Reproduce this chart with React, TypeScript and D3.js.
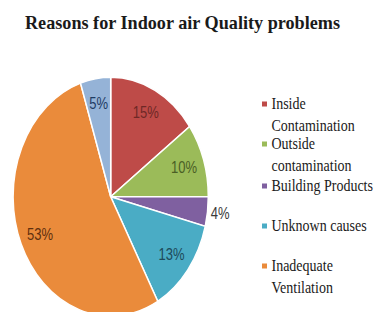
import React from 'react';
import * as d3 from 'd3';

const title = 'Reasons for Indoor air Quality problems';
const categories = [
  'Inside Contamination',
  'Outside contamination',
  'Building Products',
  'Unknown causes',
  'Inadequate Ventilation',
  'Others',
];
const values = [15, 10, 4, 13, 53, 5];
const valueLabels = ['15%', '10%', '4%', '13%', '53%', '5%'];
const legendLines = [
  ['Inside', 'Contamination'],
  ['Outside', 'contamination'],
  ['Building Products'],
  ['Unknown causes'],
  ['Inadequate', 'Ventilation'],
];

const sliceColors = ['#BE4B48', '#9BBB59', '#7F60A0', '#4AACC5', '#EA8B3B', '#95B3D7'];
const labelColors = ['#6e2826', '#4a5e25', '#3a3a3a', '#1d4a5a', '#5e2f0e', '#1f3c64'];

const W = 383;
const H = 312;
const cx = 110.7;
const cy = 196.7;
const R = 97.6;
const S = 1.223; // vertical stretch of the original picture
const legendTop = [109, 149, 191, 231, 271];
const lineH = 21.5;

export default function App() {
  const pie = d3.pie<number>().sort(null).value((d) => d)(values);
  const arc = d3.arc<d3.PieArcDatum<number>>().innerRadius(0).outerRadius(R);
  const labelArc = d3.arc<d3.PieArcDatum<number>>().innerRadius(R * 0.79).outerRadius(R * 0.79);
  const outerArc = d3.arc<d3.PieArcDatum<number>>().innerRadius(R * 1.13).outerRadius(R * 1.13);

  return (
    <svg
      width={W}
      height={H}
      viewBox={`0 0 ${W} ${H}`}
      style={{ position: 'absolute', left: 0, top: 0, background: '#fff' }}
    >
      <text
        transform={`translate(25,28.5) scale(1,${S})`}
        fontFamily="'Liberation Serif', 'Times New Roman', serif"
        fontWeight="bold"
        fontSize={16}
        fill="#1a1a1a"
        textLength={315}
        lengthAdjust="spacingAndGlyphs"
      >
        {title}
      </text>

      <g transform={`translate(${cx},${cy}) scale(1,${S})`}>
        {pie.map((d, i) => (
          <path
            key={categories[i]}
            d={arc(d) || ''}
            fill={sliceColors[i]}
            stroke="#ffffff"
            strokeWidth={1.5}
            vectorEffect="non-scaling-stroke"
          />
        ))}
      </g>

      {pie.map((d, i) => {
        const [x, y] = (values[i] < 5 ? outerArc : labelArc).centroid(d);
        return (
          <text
            key={'l' + i}
            transform={`translate(${cx + x},${cy + y * S}) scale(1,${S})`}
            textAnchor="middle"
            dy="0.35em"
            fontFamily="'Liberation Sans', Arial, sans-serif"
            fontSize={13}
            fill={labelColors[i]}
          >
            {valueLabels[i]}
          </text>
        );
      })}

      {legendLines.map((lines, i) => (
        <g key={'lg' + i}>
          <rect x={262} y={legendTop[i] - 7.5} width={5} height={5} fill={sliceColors[i]} />
          {lines.map((ln, j) => (
            <text
              key={j}
              transform={`translate(271.5,${legendTop[i] + j * lineH}) scale(1,${S})`}
              fontFamily="'Liberation Serif', 'Times New Roman', serif"
              fontSize={14}
              fill="#1a1a1a"
            >
              {ln}
            </text>
          ))}
        </g>
      ))}
    </svg>
  );
}
